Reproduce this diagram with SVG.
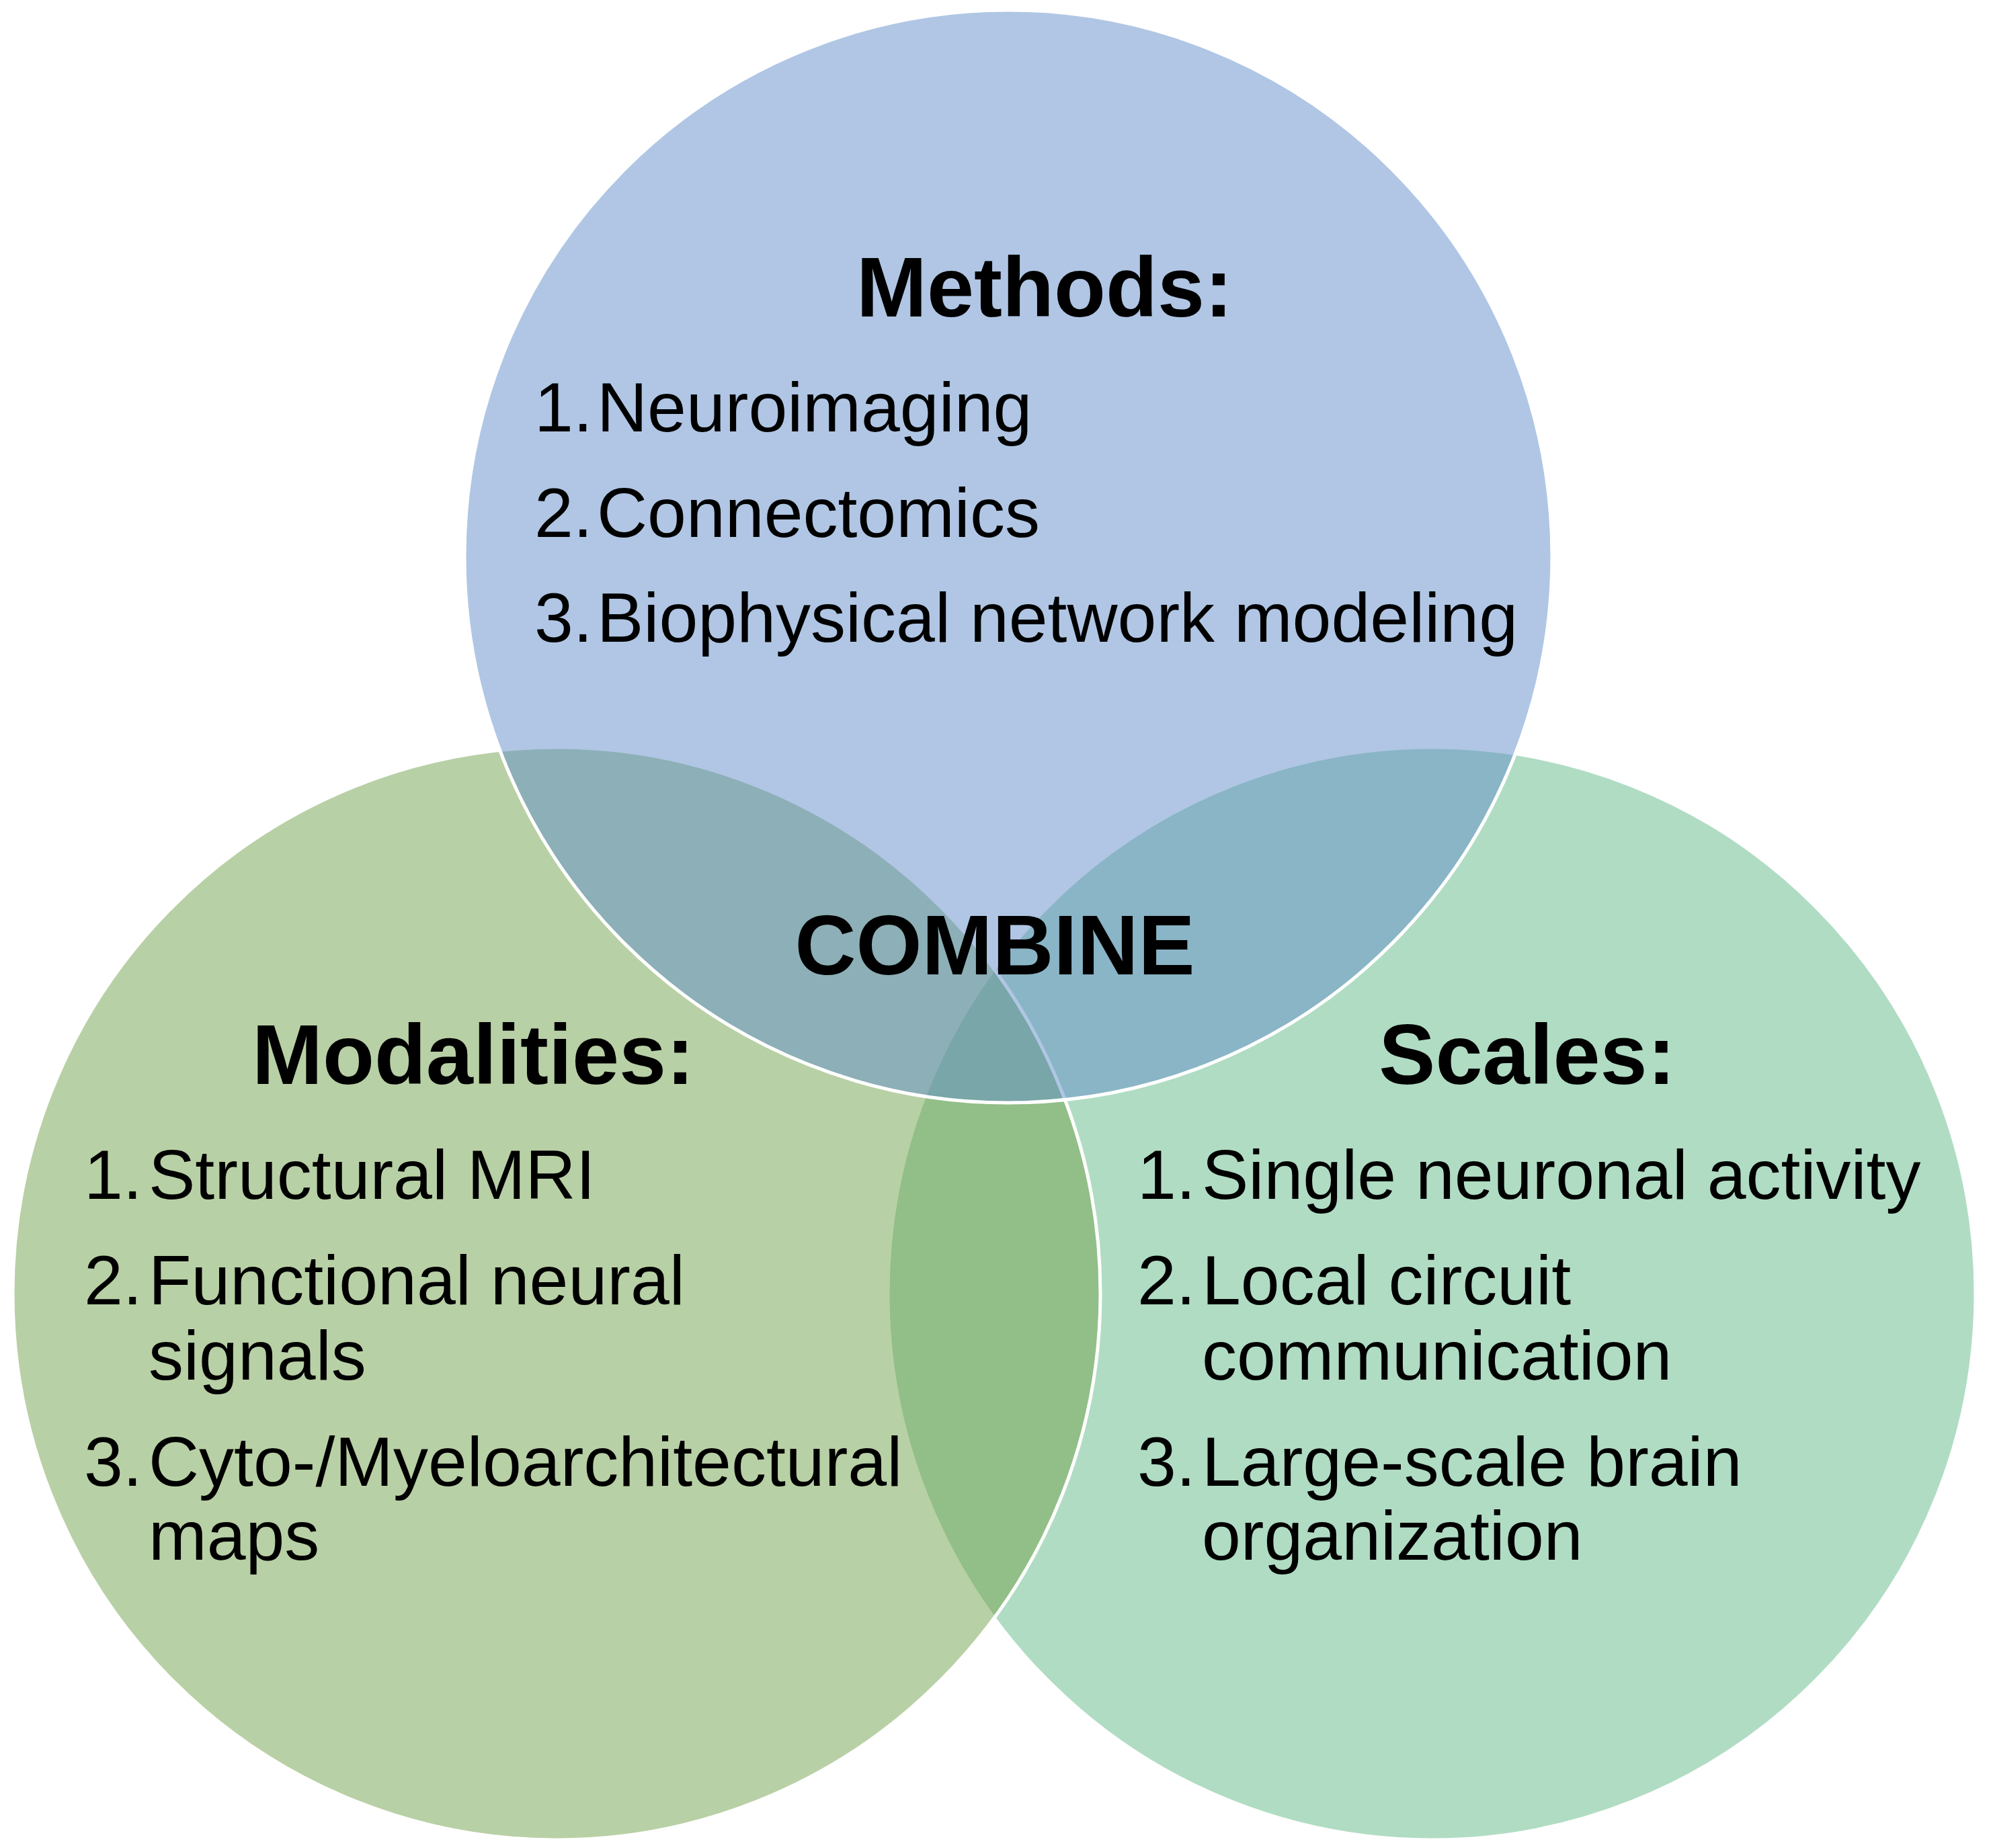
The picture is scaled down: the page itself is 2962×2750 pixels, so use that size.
<svg xmlns="http://www.w3.org/2000/svg" width="2962" height="2750" viewBox="0 0 2962 2750">
<style>
.c{fill-opacity:0.5;stroke:#ffffff;stroke-width:5}
.h{font-family:"Liberation Sans",Arial,sans-serif;font-weight:bold;font-size:126px;fill:#000;text-anchor:middle}
.t{font-family:"Liberation Sans",Arial,sans-serif;font-size:104px;fill:#000}
</style>
<rect width="2962" height="2750" fill="#ffffff"/>
<g id="scales">
<ellipse class="c" cx="2130" cy="1925" rx="809" ry="813" fill="#61B987"/>
<text class="h" x="2272" y="1613">Scales:</text>
<text class="t" x="1692" y="1784">1.</text><text class="t" x="1788" y="1784">Single neuronal activity</text>
<text class="t" x="1692" y="1941">2.</text><text class="t" x="1788" y="1941">Local circuit</text>
<text class="t" x="1788" y="2053">communication</text>
<text class="t" x="1692" y="2211">3.</text><text class="t" x="1788" y="2211">Large-scale brain</text>
<text class="t" x="1788" y="2321">organization</text>
</g>
<g id="modalities">
<ellipse class="c" cx="828" cy="1925" rx="809" ry="813" fill="#71A14B"/>
<text class="h" x="704" y="1613">Modalities:</text>
<text class="t" x="125" y="1784">1.</text><text class="t" x="221" y="1784">Structural MRI</text>
<text class="t" x="125" y="1941">2.</text><text class="t" x="221" y="1941">Functional neural</text>
<text class="t" x="221" y="2053">signals</text>
<text class="t" x="125" y="2211">3.</text><text class="t" x="221" y="2211">Cyto-/Myeloarchitectural</text>
<text class="t" x="221" y="2321">maps</text>
</g>
<g id="methods">
<ellipse class="c" cx="1500" cy="828" rx="809" ry="813" fill="#618DC9"/>
<text class="h" x="1554" y="471">Methods:</text>
<text class="t" x="795" y="642">1.</text><text class="t" x="888" y="642">Neuroimaging</text>
<text class="t" x="795" y="799">2.</text><text class="t" x="888" y="799">Connectomics</text>
<text class="t" x="795" y="955">3.</text><text class="t" x="888" y="955">Biophysical network modeling</text>
</g>
<g id="combine">
<text class="h" x="1480" y="1450">COMBINE</text>
</g>
<g id="connectors"/>
</svg>
